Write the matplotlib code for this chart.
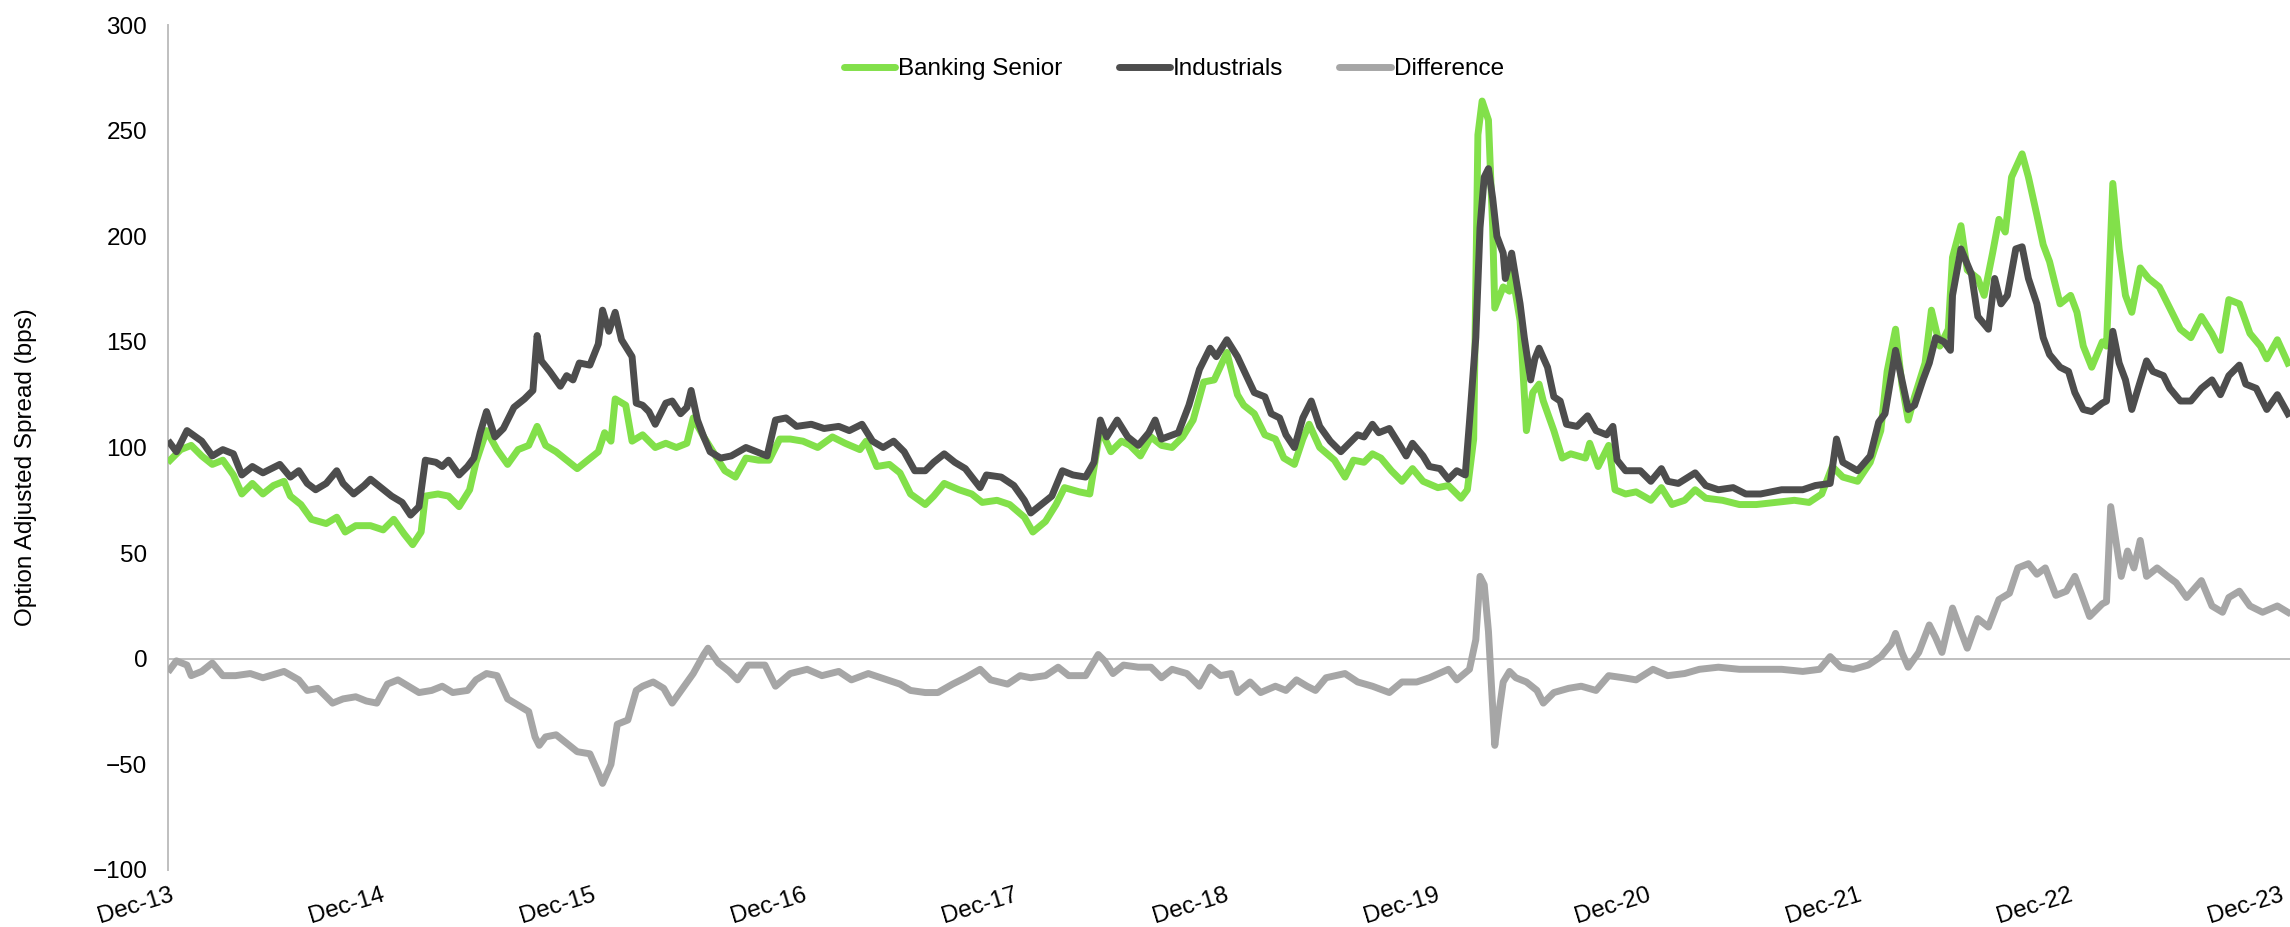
"""
Option adjusted spread: Banking Senior vs Industrials, Dec-13 to Dec-23.
Writes out.png
"""

import matplotlib

matplotlib.use("Agg")
import matplotlib.pyplot as plt
from matplotlib.lines import Line2D


GREEN = "#82E04A"
DARK = "#4D4D4D"
LIGHT = "#A6A6A6"
AXIS = "#BFBFBF"

plt.rcParams["font.family"] = ["Liberation Sans", "DejaVu Sans"]

# time is in years after Dec-2013
TICK_LABELS = ["Dec-13", "Dec-14", "Dec-15", "Dec-16", "Dec-17", "Dec-18",
               "Dec-19", "Dec-20", "Dec-21", "Dec-22", "Dec-23"]

bank_yrs = [
    0.00, 0.05, 0.10, 0.15, 0.20, 0.25, 0.30, 0.34, 0.39, 0.44, 0.49, 0.54, 0.57, 0.62,
    0.67, 0.74, 0.79, 0.83, 0.88, 0.95, 1.01, 1.06, 1.11, 1.15, 1.19, 1.21, 1.27, 1.32,
    1.37, 1.42, 1.45, 1.50, 1.55, 1.60, 1.65, 1.70, 1.74, 1.78, 1.83, 1.88, 1.93, 1.98,
    2.03, 2.06, 2.09, 2.11, 2.16, 2.19, 2.24, 2.30, 2.35, 2.40, 2.45, 2.48, 2.53, 2.58,
    2.63, 2.68, 2.73, 2.79, 2.84, 2.89, 2.94, 3.00, 3.07, 3.14, 3.20, 3.27, 3.30, 3.35,
    3.41, 3.46, 3.51, 3.58, 3.62, 3.67, 3.74, 3.80, 3.85, 3.92, 3.98, 4.05, 4.09, 4.15,
    4.20, 4.24, 4.31, 4.36, 4.41, 4.46, 4.51, 4.55, 4.60, 4.65, 4.70, 4.75, 4.80, 4.85,
    4.90, 4.95, 5.01, 5.06, 5.09, 5.14, 5.19, 5.24, 5.28, 5.33, 5.37, 5.40, 5.45, 5.52,
    5.57, 5.61, 5.66, 5.70, 5.74, 5.79, 5.84, 5.89, 5.94, 6.01, 6.06, 6.12, 6.15, 6.18,
    6.20, 6.22, 6.25, 6.27, 6.28, 6.32, 6.35, 6.36, 6.40, 6.43, 6.46, 6.49, 6.51, 6.56,
    6.60, 6.64, 6.71, 6.73, 6.77, 6.82, 6.85, 6.90, 6.95, 7.02, 7.07, 7.12, 7.18, 7.23,
    7.28, 7.36, 7.44, 7.52, 7.61, 7.70, 7.77, 7.83, 7.88, 7.93, 8.00, 8.06, 8.11, 8.14,
    8.18, 8.21, 8.24, 8.27, 8.32, 8.35, 8.39, 8.43, 8.45, 8.49, 8.52, 8.57, 8.60, 8.64,
    8.67, 8.70, 8.73, 8.78, 8.81, 8.85, 8.88, 8.91, 8.96, 9.01, 9.04, 9.07, 9.11, 9.16,
    9.18, 9.21, 9.24, 9.27, 9.30, 9.34, 9.38, 9.43, 9.47, 9.53, 9.58, 9.63, 9.68, 9.72,
    9.76, 9.81, 9.86, 9.91, 9.94, 9.99, 10.04,
]
bank_oas = [
    94, 99, 101, 96, 92, 94, 87, 78, 83, 78, 82, 84, 77, 73,
    66, 64, 67, 60, 63, 63, 61, 66, 59, 54, 60, 77, 78, 77,
    72, 80, 93, 108, 99, 92, 99, 101, 110, 101, 98, 94, 90, 94,
    98, 107, 103, 123, 120, 103, 106, 100, 102, 100, 102, 114, 105, 97,
    89, 86, 95, 94, 94, 104, 104, 103, 100, 105, 102, 99, 103, 91,
    92, 88, 78, 73, 77, 83, 80, 78, 74, 75, 73, 67, 60, 65,
    73, 81, 79, 78, 109, 98, 103, 101, 96, 105, 101, 100, 105, 113,
    131, 132, 145, 125, 120, 116, 106, 104, 95, 92, 104, 111, 100, 94,
    86, 94, 93, 97, 95, 89, 84, 90, 84, 81, 82, 76, 80, 104,
    248, 264, 255, 204, 166, 176, 174, 184, 160, 108, 126, 130, 122, 108,
    95, 97, 95, 102, 91, 101, 80, 78, 79, 75, 81, 73, 75, 80,
    76, 75, 73, 73, 74, 75, 74, 78, 91, 86, 84, 93, 108, 136,
    156, 130, 113, 124, 140, 165, 148, 156, 190, 205, 184, 180, 172, 192,
    208, 202, 228, 239, 228, 210, 196, 188, 168, 172, 164, 148, 138, 150,
    148, 225, 194, 172, 164, 185, 180, 176, 168, 156, 152, 162, 154, 146,
    170, 168, 154, 148, 142, 151, 140,
]

ind_yrs = [
    0.00, 0.03, 0.08, 0.15, 0.20, 0.25, 0.30, 0.34, 0.39, 0.44, 0.52, 0.57, 0.61, 0.65,
    0.69, 0.74, 0.79, 0.82, 0.87, 0.92, 0.95, 1.00, 1.05, 1.10, 1.14, 1.18, 1.21, 1.26,
    1.29, 1.32, 1.37, 1.41, 1.44, 1.47, 1.50, 1.54, 1.58, 1.63, 1.68, 1.72, 1.74, 1.76,
    1.80, 1.85, 1.88, 1.91, 1.94, 1.99, 2.03, 2.05, 2.08, 2.11, 2.14, 2.19, 2.21, 2.24,
    2.27, 2.30, 2.35, 2.38, 2.42, 2.45, 2.47, 2.50, 2.53, 2.56, 2.61, 2.66, 2.73, 2.78,
    2.83, 2.87, 2.92, 2.97, 3.04, 3.10, 3.17, 3.22, 3.28, 3.33, 3.38, 3.43, 3.48, 3.53,
    3.58, 3.62, 3.67, 3.72, 3.77, 3.84, 3.87, 3.94, 4.00, 4.05, 4.08, 4.13, 4.18, 4.23,
    4.28, 4.34, 4.38, 4.41, 4.44, 4.49, 4.54, 4.59, 4.64, 4.67, 4.70, 4.78, 4.83, 4.88,
    4.93, 4.96, 5.01, 5.06, 5.14, 5.19, 5.22, 5.26, 5.29, 5.33, 5.37, 5.41, 5.45, 5.50,
    5.55, 5.58, 5.63, 5.66, 5.70, 5.73, 5.78, 5.83, 5.86, 5.89, 5.94, 5.97, 6.02, 6.06,
    6.10, 6.14, 6.16, 6.19, 6.21, 6.23, 6.25, 6.27, 6.29, 6.32, 6.33, 6.36, 6.40, 6.42,
    6.45, 6.47, 6.49, 6.53, 6.56, 6.59, 6.62, 6.67, 6.72, 6.76, 6.81, 6.84, 6.86, 6.90,
    6.97, 7.02, 7.07, 7.10, 7.15, 7.23, 7.28, 7.34, 7.41, 7.47, 7.54, 7.64, 7.74, 7.80,
    7.87, 7.90, 7.93, 8.00, 8.06, 8.10, 8.13, 8.16, 8.18, 8.21, 8.24, 8.27, 8.31, 8.34,
    8.37, 8.41, 8.44, 8.45, 8.49, 8.54, 8.57, 8.62, 8.65, 8.68, 8.71, 8.75, 8.78, 8.81,
    8.85, 8.88, 8.91, 8.96, 9.00, 9.03, 9.07, 9.11, 9.16, 9.18, 9.21, 9.24, 9.27, 9.30,
    9.33, 9.37, 9.40, 9.45, 9.48, 9.53, 9.58, 9.63, 9.68, 9.72, 9.76, 9.81, 9.84, 9.89,
    9.94, 9.99, 10.04,
]
ind_oas = [
    102, 98, 108, 103, 96, 99, 97, 87, 91, 88, 92, 86, 89, 83,
    80, 83, 89, 83, 78, 82, 85, 81, 77, 74, 68, 72, 94, 93,
    91, 94, 87, 91, 95, 107, 117, 105, 109, 119, 123, 127, 153, 141,
    136, 129, 134, 132, 140, 139, 149, 165, 155, 164, 151, 143, 121, 120,
    117, 111, 121, 122, 116, 119, 127, 113, 105, 98, 95, 96, 100, 98,
    96, 113, 114, 110, 111, 109, 110, 108, 111, 103, 100, 103, 98, 89,
    89, 93, 97, 93, 90, 81, 87, 86, 82, 75, 69, 73, 77, 89,
    87, 86, 93, 113, 105, 113, 105, 101, 107, 113, 104, 107, 120, 137,
    147, 143, 151, 143, 126, 124, 116, 114, 106, 100, 114, 122, 110, 103,
    98, 101, 106, 105, 111, 107, 109, 101, 96, 102, 96, 91, 90, 85,
    89, 87, 112, 152, 204, 228, 232, 218, 200, 192, 180, 192, 168, 152,
    132, 142, 147, 138, 124, 122, 111, 110, 115, 108, 106, 110, 94, 89,
    89, 84, 90, 84, 83, 88, 82, 80, 81, 78, 78, 80, 80, 82,
    83, 104, 93, 89, 96, 112, 116, 134, 146, 132, 118, 120, 132, 140,
    152, 150, 146, 172, 194, 182, 162, 156, 180, 168, 172, 194, 195, 180,
    168, 152, 144, 138, 136, 126, 118, 117, 121, 122, 155, 140, 132, 118,
    128, 141, 136, 134, 128, 122, 122, 128, 132, 125, 134, 139, 130, 128,
    118, 125, 116,
]

diff_yrs = [
    0.00, 0.03, 0.08, 0.10, 0.15, 0.20, 0.25, 0.31, 0.38, 0.44, 0.54, 0.61, 0.65, 0.70,
    0.77, 0.82, 0.88, 0.93, 0.98, 1.03, 1.08, 1.13, 1.18, 1.24, 1.29, 1.34, 1.41, 1.45,
    1.50, 1.55, 1.60, 1.65, 1.70, 1.73, 1.75, 1.78, 1.83, 1.88, 1.93, 1.99, 2.03, 2.05,
    2.09, 2.12, 2.17, 2.21, 2.24, 2.29, 2.34, 2.38, 2.43, 2.48, 2.53, 2.55, 2.60, 2.65,
    2.69, 2.74, 2.82, 2.87, 2.94, 3.02, 3.09, 3.17, 3.23, 3.31, 3.40, 3.46, 3.51, 3.58,
    3.64, 3.71, 3.77, 3.84, 3.89, 3.97, 4.03, 4.08, 4.15, 4.21, 4.26, 4.34, 4.40, 4.43,
    4.47, 4.52, 4.59, 4.65, 4.70, 4.75, 4.82, 4.88, 4.93, 4.98, 5.03, 5.06, 5.12, 5.17,
    5.24, 5.29, 5.34, 5.39, 5.43, 5.48, 5.57, 5.63, 5.70, 5.78, 5.84, 5.91, 5.97, 6.06,
    6.10, 6.16, 6.19, 6.21, 6.23, 6.25, 6.27, 6.28, 6.30, 6.32, 6.35, 6.38, 6.43, 6.48,
    6.51, 6.56, 6.63, 6.69, 6.76, 6.82, 6.89, 6.95, 7.03, 7.10, 7.18, 7.25, 7.34, 7.44,
    7.54, 7.64, 7.74, 7.82, 7.87, 7.92, 7.98, 8.05, 8.11, 8.16, 8.18, 8.21, 8.24, 8.29,
    8.34, 8.37, 8.40, 8.45, 8.49, 8.52, 8.57, 8.62, 8.67, 8.72, 8.76, 8.81, 8.85, 8.89,
    8.94, 8.99, 9.03, 9.06, 9.10, 9.16, 9.18, 9.20, 9.23, 9.25, 9.28, 9.31, 9.34, 9.37,
    9.42, 9.47, 9.51, 9.56, 9.63, 9.68, 9.73, 9.76, 9.81, 9.86, 9.92, 9.99, 10.04,
]
diff_oas = [
    -5, -1, -3, -8, -6, -2, -8, -8, -7, -9, -6, -10, -15, -14,
    -21, -19, -18, -20, -21, -12, -10, -13, -16, -15, -13, -16, -15, -10,
    -7, -8, -19, -22, -25, -37, -41, -37, -36, -40, -44, -45, -54, -59,
    -50, -31, -29, -15, -13, -11, -14, -21, -14, -7, 2, 5, -2, -6,
    -10, -3, -3, -13, -7, -5, -8, -6, -10, -7, -10, -12, -15, -16,
    -16, -12, -9, -5, -10, -12, -8, -9, -8, -4, -8, -8, 2, -1,
    -7, -3, -4, -4, -9, -5, -7, -13, -4, -8, -7, -16, -11, -16,
    -13, -15, -10, -13, -15, -9, -7, -11, -13, -16, -11, -11, -9, -5,
    -10, -5, 9, 39, 35, 13, -23, -41, -25, -11, -6, -9, -11, -15,
    -21, -16, -14, -13, -15, -8, -9, -10, -5, -8, -7, -5, -4, -5,
    -5, -5, -6, -5, 1, -4, -5, -3, 1, 7, 12, 3, -4, 3,
    16, 10, 3, 24, 13, 5, 19, 15, 28, 31, 43, 45, 40, 43,
    30, 32, 39, 31, 20, 26, 27, 72, 52, 39, 51, 43, 56, 39,
    43, 39, 36, 29, 37, 25, 22, 29, 32, 25, 22, 25, 22,
]


def main():
    fig = plt.figure(figsize=(22.9, 9.27), dpi=100, facecolor="white")
    ax = fig.add_axes([168 / 2290, 57 / 927, 2122 / 2290, 845 / 927])

    ax.plot(bank_yrs, bank_oas, color=GREEN, lw=5, solid_joinstyle="round", zorder=3)
    ax.plot(ind_yrs, ind_oas, color=DARK, lw=5, solid_joinstyle="round", zorder=4)
    ax.plot(diff_yrs, diff_oas, color=LIGHT, lw=5, solid_joinstyle="round", zorder=5)
    ax.axhline(0, color=AXIS, lw=1.4, zorder=2)

    ax.set_xlim(-0.01, 10.05)
    ax.set_ylim(-100, 300)
    ax.set_yticks(range(-100, 301, 50))
    ax.set_xticks(range(len(TICK_LABELS)))
    ax.set_xticklabels(TICK_LABELS, rotation=17, ha="right", va="top",
                       rotation_mode="anchor")

    ax.tick_params(axis="y", length=0, pad=15, labelsize=17.5, labelcolor="black")
    ax.tick_params(axis="x", length=0, pad=10, labelsize=17.5, labelcolor="black")

    for side in ["top", "right", "bottom"]:
        ax.spines[side].set_visible(False)
    ax.spines["left"].set_color(AXIS)
    ax.spines["left"].set_linewidth(1.4)

    fig.text(26 / 2290, 1 - 467 / 927, "Option Adjusted Spread (bps)",
             rotation=90, ha="center", va="center", fontsize=17.5)

    handles = [
        Line2D([], [], color=GREEN, lw=5, solid_capstyle="round"),
        Line2D([], [], color=DARK, lw=5, solid_capstyle="round"),
        Line2D([], [], color=LIGHT, lw=5, solid_capstyle="round"),
    ]
    fig.legend(handles, ["Banking Senior", "Industrials", "Difference"],
               loc="center", bbox_to_anchor=(1174 / 2290, 1 - 69 / 927),
               ncol=3, frameon=False, fontsize=17.5, handlelength=2.1,
               handletextpad=0.15, columnspacing=2.3)

    fig.savefig("out.png", dpi=100, facecolor="white")


if __name__ == "__main__":
    main()
